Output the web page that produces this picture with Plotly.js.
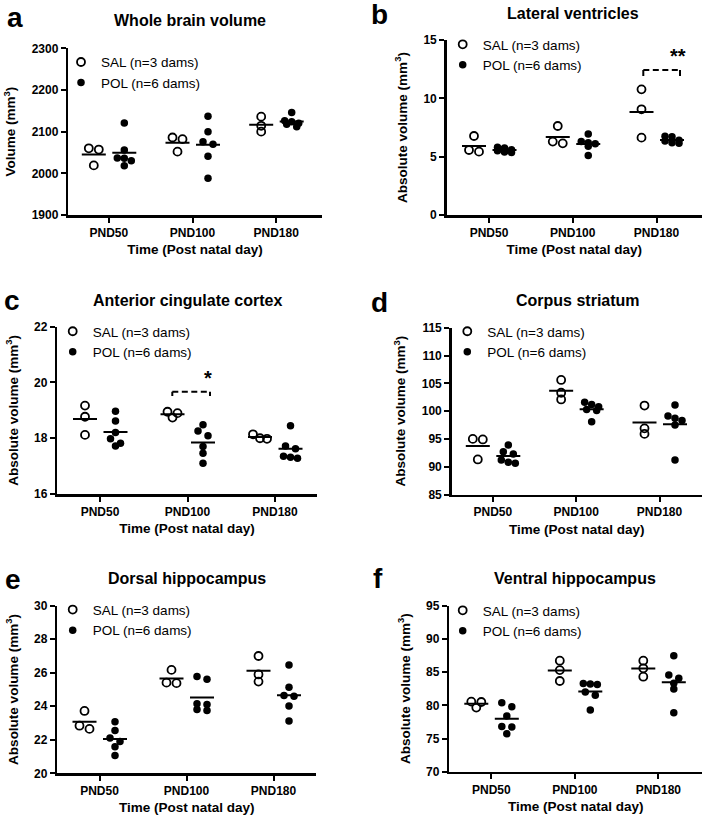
<!DOCTYPE html>
<html><head><meta charset="utf-8">
<script src="https://cdn.plot.ly/plotly-3.0.1.min.js"></script>
<style>html,body{margin:0;padding:0;background:#fff}#chart{width:702px;height:818px}</style>
</head><body><div id="chart"></div>
<script>
// ---------------- data ----------------
const categories = ['PND50', 'PND100', 'PND180'];
const seriesNames = ['SAL (n=3 dams)', 'POL (n=6 dams)'];
const panelLetters = ['a', 'b', 'c', 'd', 'e', 'f'];
const panelTitles = ['Whole brain volume', 'Lateral ventricles', 'Anterior cingulate cortex',
                     'Corpus striatum', 'Dorsal hippocampus', 'Ventral hippocampus'];
const yTitles = ['Volume (mm<sup>3</sup>)', 'Absolute volume (mm<sup>3</sup>)', 'Absolute volume (mm<sup>3</sup>)',
                 'Absolute volume (mm<sup>3</sup>)', 'Absolute volume (mm<sup>3</sup>)', 'Absolute volume (mm<sup>3</sup>)'];
const xTitle = 'Time (Post natal day)';

// a: whole brain volume
const salWholeBrain = [[2060, 2057, 2019], [2086, 2082, 2052], [2136, 2114, 2100]];
const polWholeBrain = [[2121, 2056, 2037, 2036, 2030, 2018], [2137, 2100, 2076, 2070, 2041, 1988], [2146, 2126, 2124, 2120, 2118, 2112]];
// b: lateral ventricles
const salLatVent = [[6.77, 5.57, 5.43], [7.63, 6.29, 6.14], [10.77, 9.06, 6.63]];
const polLatVent = [[5.8, 5.75, 5.6, 5.5, 5.4, 5.35], [6.95, 6.3, 6.2, 6.1, 5.9, 5.1], [6.75, 6.7, 6.4, 6.35, 6.2, 6.15]];
// c: anterior cingulate cortex
const salACC = [[19.17, 18.77, 18.12], [18.95, 18.9, 18.74], [18.14, 18.0, 17.98]];
const polACC = [[18.97, 18.62, 18.21, 17.98, 17.82, 17.72], [18.48, 18.26, 18.09, 17.7, 17.46, 17.1], [18.45, 17.72, 17.62, 17.35, 17.32, 17.28]];
// d: corpus striatum
const salStriatum = [[95.0, 94.9, 91.3], [105.6, 103.3, 102.1], [101.0, 96.9, 95.9]];
const polStriatum = [[93.9, 92.7, 92.3, 91.2, 90.8, 90.6], [101.6, 101.2, 100.8, 100.3, 100.1, 98.1], [101.1, 99.1, 98.7, 98.3, 97.5, 91.2]];
// e: dorsal hippocampus
const salDorsalHip = [[23.72, 22.84, 22.65], [26.17, 25.41, 25.38], [27.0, 25.9, 25.47]];
const polDorsalHip = [[23.08, 22.55, 22.1, 21.9, 21.59, 21.06], [25.77, 25.61, 24.15, 24.1, 23.8, 23.75], [26.46, 25.13, 24.64, 24.6, 24.02, 23.12]];
// f: ventral hippocampus
const salVentralHip = [[80.55, 80.5, 79.65], [86.72, 85.3, 83.66], [86.72, 85.57, 84.31]];
const polVentralHip = [[80.4, 79.8, 78.4, 76.8, 76.75, 75.7], [83.3, 83.2, 83.15, 82.0, 81.5, 79.3], [87.47, 84.56, 84.07, 83.31, 82.46, 78.89]];

const salData = [salWholeBrain, salLatVent, salACC, salStriatum, salDorsalHip, salVentralHip];
const polData = [polWholeBrain, polLatVent, polACC, polStriatum, polDorsalHip, polVentralHip];
const yRanges = [[1900, 2300], [0, 15], [16, 22], [85, 115], [20, 30], [70, 95]];
const yDticks = [100, 5, 2, 5, 2, 5];

// significance markers
const sigPanels = [1, 2];
const sigLabels = ['**', '*'];

// ---------------- geometry (pixels) ----------------
const W = 702, H = 818;
const geo = [
  {xl: 68.3, xr: 321.7, yt: 48.3, yb: 215, t0: 108.8, s: 83.7, leg: [81, 61.7], title: [190, 20.7], letter: [15, 17.5]},
  {xl: 446.7, xr: 702, yt: 40, yb: 215, t0: 489, s: 83.75, leg: [462.7, 44], title: [573.3, 13.3], letter: [379, 15]},
  {xl: 57.3, xr: 316.7, yt: 326.7, yb: 494, t0: 100, s: 87.5, leg: [72.7, 331], title: [187.5, 300], letter: [11.5, 300.5]},
  {xl: 451.7, xr: 702, yt: 327.7, yb: 494.5, t0: 492.8, s: 83.35, leg: [467.3, 331], title: [577.5, 300], letter: [379.5, 302]},
  {xl: 57.3, xr: 316, yt: 605.7, yb: 773.3, t0: 99.5, s: 87, leg: [72.7, 609.3], title: [187, 578.3], letter: [12.5, 579.5]},
  {xl: 449.3, xr: 702, yt: 605.7, yb: 771.7, t0: 491.3, s: 83.5, leg: [462.7, 610], title: [574.7, 578.3], letter: [378, 578]}
];
// bracket geometry in px: [left x, right x, top y, leg bottom y, star x, star y]
const sigGeo = [[643.3, 680, 70, 76, 678.3, 56], [172.3, 210, 391.7, 396, 208.3, 378]];

const FONT = 'Liberation Sans, Arial, Helvetica, sans-serif';
const GROUP_OFF = [-15, 15.5];   // px offset of SAL / POL inside a category
const MEAN_HALF = 12;            // px half-length of mean line
const ROW_PX = 5;

function swarm(vals, pxPerUnit) {
  const idx = vals.map((v, i) => i).sort((a, b) => vals[b] - vals[a]);
  const off = new Array(vals.length).fill(0);
  let i = 0;
  while (i < idx.length) {
    const row = [idx[i]];
    let j = i + 1;
    while (j < idx.length && row.length < 3 && (vals[idx[i]] - vals[idx[j]]) * pxPerUnit < ROW_PX) { row.push(idx[j]); j++; }
    const gap = row.length === 2 ? 10 : 7;
    row.forEach((k, r) => { off[k] = (r - (row.length - 1) / 2) * gap; });
    i = j;
  }
  return off;
}

const traces = [];
const layout = {
  width: W, height: H, margin: {l: 0, r: 0, t: 0, b: 0},
  paper_bgcolor: '#fff', plot_bgcolor: 'rgba(0,0,0,0)',
  font: {family: FONT, color: '#000'},
  annotations: [], shapes: []
};

for (let p = 0; p < 6; p++) {
  const g = geo[p];
  const n = p === 0 ? '' : String(p + 1);
  const xa = 'x' + n, ya = 'y' + n, lg = 'legend' + n;
  const yr = yRanges[p];
  const pxPerUnit = (g.yb - g.yt) / (yr[1] - yr[0]);

  [salData[p], polData[p]].forEach((groups, s) => {
    const xs = [], ys = [], mx = [], my = [];
    groups.forEach((vals, c) => {
      const off = swarm(vals, pxPerUnit);
      vals.forEach((v, k) => { xs.push(c + (GROUP_OFF[s] + off[k]) / g.s); ys.push(v); });
      const m = vals.reduce((a, b) => a + b, 0) / vals.length;
      mx.push(c + (GROUP_OFF[s] - MEAN_HALF) / g.s, c + (GROUP_OFF[s] + MEAN_HALF) / g.s, null);
      my.push(m, m, null);
    });
    traces.push({
      type: 'scatter', mode: 'markers', x: xs, y: ys, xaxis: xa, yaxis: ya,
      name: seriesNames[s], legend: lg, showlegend: true,
      marker: s === 0 ? {symbol: 'circle-open', size: 8, color: '#000', line: {width: 1.8, color: '#000'}}
                      : {symbol: 'circle', size: 7.5, color: '#000', line: {width: 0}},
      hoverinfo: 'x+y'
    });
    traces.push({
      type: 'scatter', mode: 'lines', x: mx, y: my, xaxis: xa, yaxis: ya,
      showlegend: false, line: {color: '#000', width: 2}, hoverinfo: 'skip'
    });
  });

  const axCommon = {
    showline: true, linecolor: '#000', linewidth: 2.5, ticks: 'outside', ticklen: 5, tickwidth: 2,
    tickcolor: '#000', showgrid: false, zeroline: false, fixedrange: true,
    tickfont: {family: FONT, size: 12, weight: 'bold', color: '#000'}
  };
  layout['xaxis' + n] = Object.assign({}, axCommon, {
    domain: [g.xl / W, g.xr / W], anchor: ya,
    range: [(g.xl - g.t0) / g.s, (g.xr - g.t0) / g.s],
    tickmode: 'array', tickvals: [0, 1, 2], ticktext: categories,
    title: {text: xTitle, font: {family: FONT, size: 13.5, weight: 'bold', color: '#000'}, standoff: 6}
  });
  layout['yaxis' + n] = Object.assign({}, axCommon, {
    domain: [1 - g.yb / H, 1 - g.yt / H], anchor: xa,
    range: yr, tick0: yr[0], dtick: yDticks[p],
    title: {text: yTitles[p], font: {family: FONT, size: 13.5, weight: 'bold', color: '#000'}, standoff: 13}
  });
  layout[lg] = {
    x: (g.leg[0] - 20) / W, y: 1 - (g.leg[1] - 15) / H, xanchor: 'left', yanchor: 'top',
    bgcolor: 'rgba(0,0,0,0)', borderwidth: 0, itemwidth: 30, tracegroupgap: 0,
    font: {family: FONT, size: 13.5, color: '#000'}
  };
  layout.annotations.push({
    xref: 'paper', yref: 'paper', x: g.title[0] / W, y: 1 - g.title[1] / H, xanchor: 'center', yanchor: 'middle',
    text: panelTitles[p], showarrow: false, font: {family: FONT, size: 16, weight: 'bold', color: '#000'}
  });
  layout.annotations.push({
    xref: 'paper', yref: 'paper', x: g.letter[0] / W, y: 1 - g.letter[1] / H, xanchor: 'center', yanchor: 'middle',
    text: panelLetters[p], showarrow: false, font: {family: FONT, size: 28, weight: 'bold', color: '#000'}
  });
}

sigPanels.forEach((p, i) => {
  const g = geo[p], sg = sigGeo[i];
  const n = p === 0 ? '' : String(p + 1);
  const yr = yRanges[p];
  const toX = px => (px - g.t0) / g.s;
  const toY = py => yr[1] - (py - g.yt) * (yr[1] - yr[0]) / (g.yb - g.yt);
  const x0 = toX(sg[0]), x1 = toX(sg[1]), yT = toY(sg[2]), yB = toY(sg[3]);
  layout.shapes.push({type: 'line', xref: 'x' + n, yref: 'y' + n, x0: x0, x1: x0, y0: yB, y1: yT, line: {color: '#000', width: 2}});
  layout.shapes.push({type: 'line', xref: 'x' + n, yref: 'y' + n, x0: x1, x1: x1, y0: yB, y1: yT, line: {color: '#000', width: 2}});
  layout.shapes.push({type: 'line', xref: 'x' + n, yref: 'y' + n, x0: x0, x1: x1, y0: yT, y1: yT, line: {color: '#000', width: 2, dash: '6px,3.5px'}});
  layout.annotations.push({
    xref: 'x' + n, yref: 'y' + n, x: toX(sg[4]), y: toY(sg[5]), xanchor: 'center', yanchor: 'middle',
    text: sigLabels[i], showarrow: false, font: {family: FONT, size: 20, weight: 'bold', color: '#000'}
  });
});

Plotly.newPlot('chart', traces, layout, {staticPlot: true, displayModeBar: false});
</script>
</body></html>
